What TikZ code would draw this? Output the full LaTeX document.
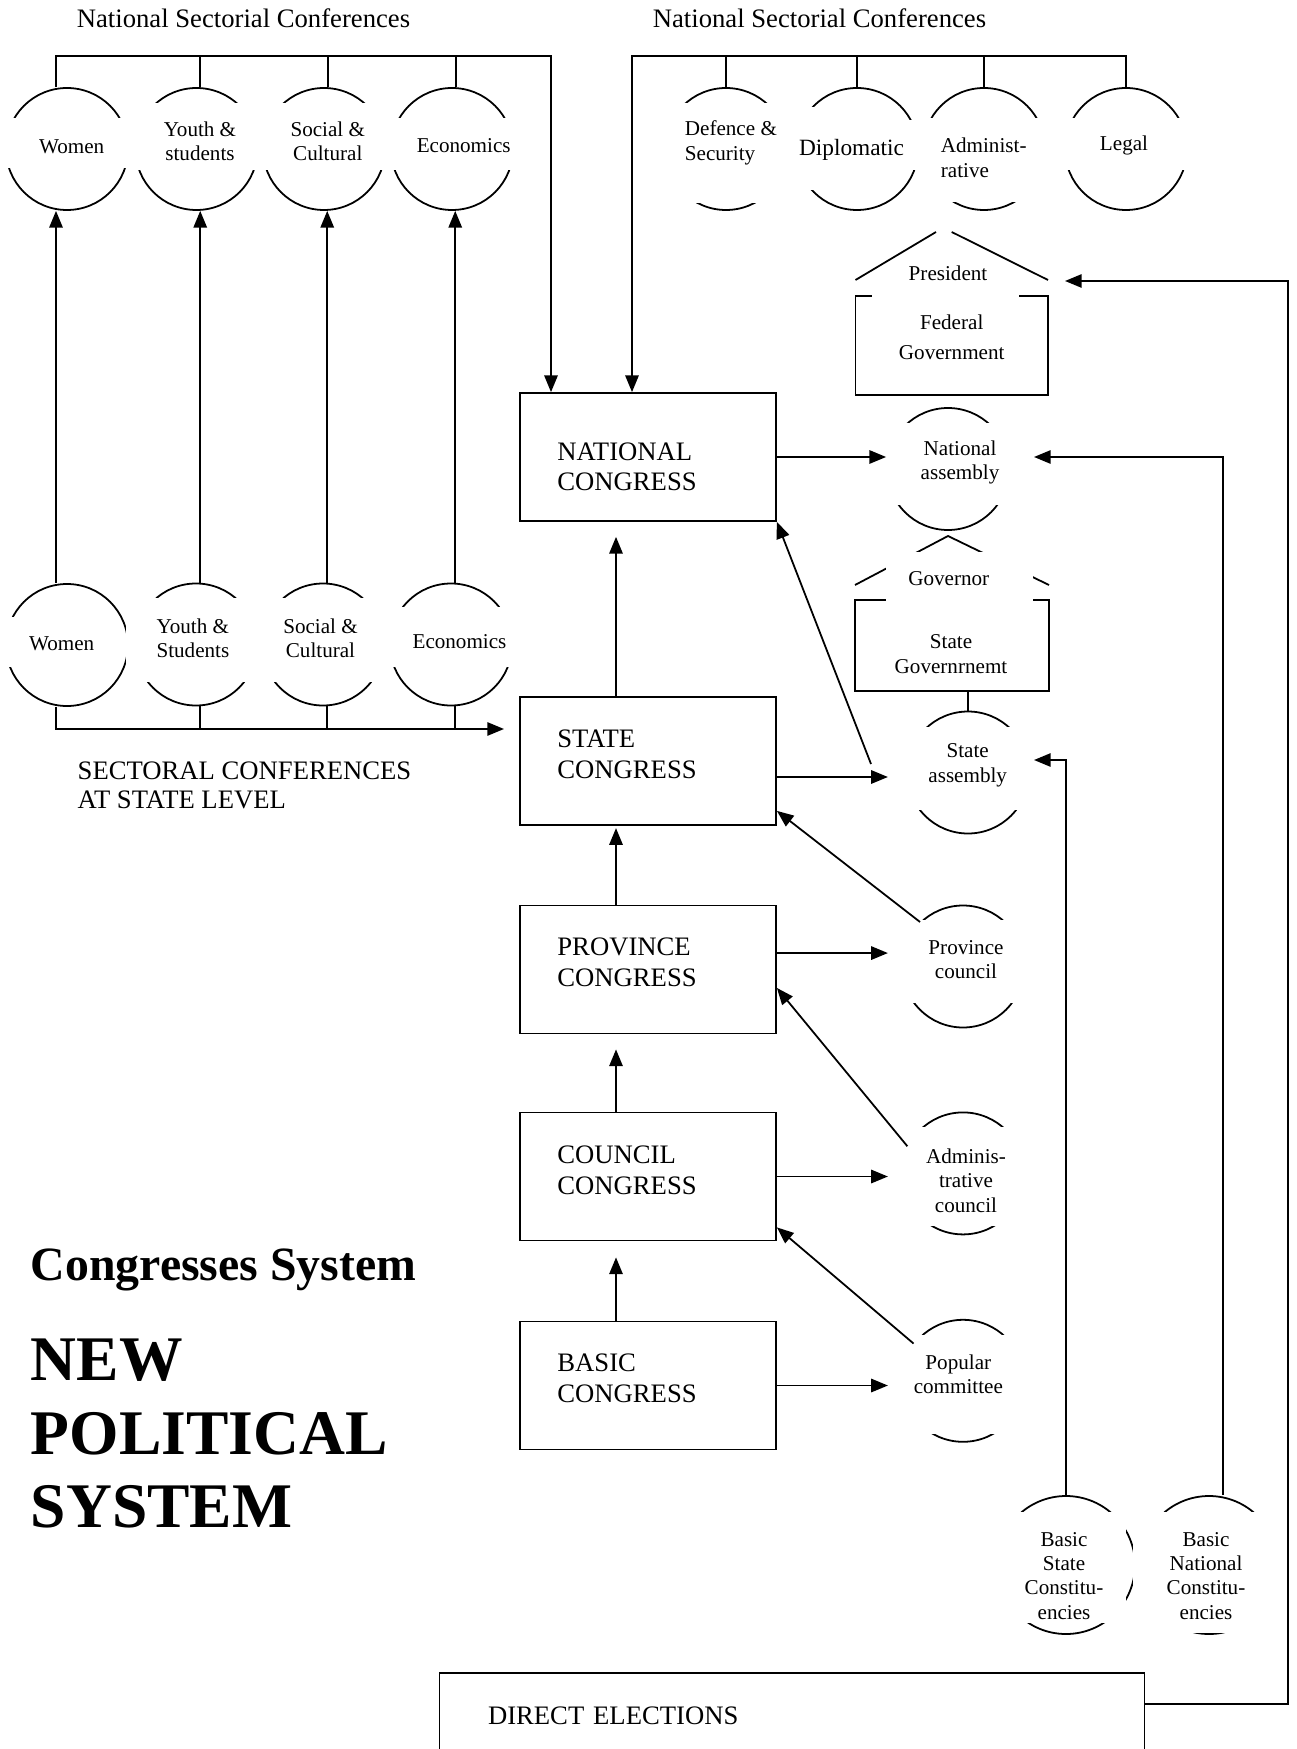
\documentclass[tikz,border=0pt]{standalone}
\usepackage{fontspec}
\setmainfont{Liberation Serif}
\usetikzlibrary{arrows.meta}
\usetikzlibrary{calc}
\newcommand{\lblfont}{\fontsize{9.5}{11}\selectfont}
\newcommand{\bigfont}{\fontsize{12}{13.8}\selectfont}
\tikzset{
  arr/.style={-{Triangle[length=7.5pt,width=6pt]}},
  sect/.style={circle,draw,minimum size=54.9pt,inner sep=0pt},
  basic/.style={sect,minimum size=62.1pt},
  lbl/.style={align=center,font=\lblfont,inner sep=0pt},
  cong/.style={draw,minimum width=115.2pt,minimum height=57.6pt},
  conglbl/.style={anchor=west,align=left,inner sep=0pt,font=\bigfont},
  govbox/.style={draw,inner sep=0pt},
}

\begin{document}
\begin{tikzpicture}[x=0.45pt,y=-0.45pt,line width=0.8pt]
\useasboundingbox (0,0) rectangle (1296,1749);

% sector circles
\foreach \n/\x/\y in {wn/67/149,yn/196.5/149,sn/324/149,en/452/149,
  df/726/149,dp/857/149,ad/984/149,lg/1126/149,
  ws/67/645,ys/196/644.5,ss/323/644.5,es/451/644.5,
  na/948/469,sa/968/772.5,pc/963/966.5,ac/963/1173.4,pp/963/1380.8}
  \node[sect] (\n) at (\x,\y) {};
\node[basic] (bs) at (1066,1565) {};
\node[basic] (bn) at (1209,1565) {};

% white label boxes cutting the circles
\foreach \n/\ax/\ay/\bx/\by in {wn/-64/-31/70/19,yn/-70/-46/70/21,sn/-70/-46/70/21,en/-70/-31/70/21,
  df/-63/-46/70/54,dp/-65/-42/0/41,dp/0/-29/70/21,ad/-62/-31/70/53,lg/-70/-31/70/21,
  ws/-64/-28/43/22,ys/-70/-46.5/70/37,ss/-70/-46.5/70/37,es/-70/-38/70/22,
  na/-66/-46/70/36,sa/-66/-46/70/37,pc/-66/-47/70/36,ac/-66/-46/70/53,pp/-66/-46/70/53,
  bs/-76/-53/60/58,bn/-76/-53/76/67.5}
  \fill[white] ($(\n)+(\ax,\ay)$) rectangle ($(\n)+(\bx,\by)$);

\node[lbl] (wnt) at (71.7,147) {Women};
\node[lbl] (ynt) at (200,141.2) {Youth \&\\students};
\node[lbl] (snt) at (327.8,141.2) {Social \&\\Cultural};
\node[lbl] (ent) at (463.7,145.3) {Economics};
\node[lbl] (wst) at (61.6,643.6) {Women};
\node[lbl] (yst) at (192.9,638.2) {Youth \&\\Students};
\node[lbl] (sst) at (320.5,638.2) {Social \&\\Cultural};
\node[lbl] (est) at (459.5,642) {Economics};
\node[lbl,anchor=west,align=left] (dft) at (684,142.8) {Defence \&\\Security};
\node[lbl,font=\fontsize{10.5}{12}\selectfont] (dpt) at (851.5,150.3) {Diplomatic};
\node[lbl,anchor=west,align=left] (adt) at (940,157.8) {Administ-\\rative};
\node[lbl] (lgt) at (1124,145.3) {Legal};
\node[lbl] (nat) at (960,462.3) {National\\assembly};
\node[lbl] (sat) at (967.7,765.2) {State\\assembly};
\node[lbl] (pct) at (966,959.5) {Province\\council};
\node[lbl] (act) at (966,1180.6) {Adminis-\\trative\\council};
\node[lbl] (ppt) at (958.3,1374.3) {Popular\\committee};
\node[lbl] (bst) at (1064,1575.8) {Basic\\State\\Constitu-\\encies};
\node[lbl] (bnt) at (1206,1575.8) {Basic\\National\\Constitu-\\encies};

% congresses
\node[cong] (natc) at (648,457) {};
\node[cong] (stc) at (648,761) {};
\node[cong] (prc) at (648,969.5) {};
\node[cong] (cnc) at (648,1176.5) {};
\node[cong] (bsc) at (648,1385.5) {};
\node[conglbl] (natct) at (556.5,466.8) {NATIONAL\\CONGRESS};
\node[conglbl] (stct) at (556.5,754.5) {STATE\\CONGRESS};
\node[conglbl] (prct) at (556.5,962.6) {PROVINCE\\CONGRESS};
\node[conglbl] (cnct) at (556.5,1170.5) {COUNCIL\\CONGRESS};
\node[conglbl] (bsct) at (556.5,1378.5) {BASIC\\CONGRESS};

% president and governor
\node[govbox,minimum width=86.6pt,minimum height=44.6pt] (fg) at (951.75,345.5) {};
\node[lbl] (fgt) at (951.7,337) {Federal\\[2.5pt]Government};
\fill[white] (872,289) rectangle (1019,298);
\draw (855.5,280) -- (936,232);
\draw (951.7,232) -- (1048,280);
\node[lbl] (pres) at (948,273.3) {President};
\node[govbox,minimum width=87.3pt,minimum height=41pt] (sg) at (952,645.5) {};
\node[lbl] (sgt) at (951,654) {State\\Governrnemt};
\draw (855,585) -- (948,536) -- (1049,585);
\fill[white] (886,552) rectangle (1033,601.5);
\node[lbl] (gov) at (948.8,578.3) {Governor};

\node[draw,minimum width=317.25pt,minimum height=38.7pt,text width=273.6pt,inner xsep=21.8pt,align=left,font=\bigfont] (de) at (792,1716) {DIRECT ELECTIONS};

% texts
\node[anchor=base west,inner sep=0pt,font=\bigfont] (h1) at (76,27.7) {National Sectorial Conferences};
\node[anchor=base west,inner sep=0pt,font=\bigfont] (h2) at (652,27.7) {National Sectorial Conferences};
\node[anchor=west,align=left,inner sep=0pt,font=\fontsize{12}{12.7}\selectfont] (scs) at (76.8,785.4) {SECTORAL CONFERENCES\\AT STATE LEVEL};
\node[anchor=base west,inner sep=0pt,font=\fontsize{21.5}{26}\selectfont\bfseries] (cs) at (30,1280) {Congresses System};
\node[anchor=west,align=left,inner sep=0pt,font=\fontsize{28.6}{32.9}\selectfont\bfseries] (nps) at (30,1433.5) {NEW\\POLITICAL\\SYSTEM};

% connectors
\coordinate (lb) at (551,56);
\coordinate (rb) at (632,56);
\coordinate (sb) at (504,729);
\draw[arr] ([xshift=-4.95pt]wn.north) |- (lb) -- (lb |- natc.north);
\foreach \n in {yn,sn,en} \draw ([xshift=1.7pt]\n.north) -- ([xshift=1.7pt]\n.north |- lb);
\draw[arr] (lg.north) |- (rb) -- (rb |- natc.north);
\foreach \n in {df,dp,ad} \draw (\n.north) -- (\n.north |- rb);
\draw[arr] ([xshift=-4.95pt]ws.north) -- ([xshift=-4.95pt]wn.south);
\foreach \p/\q in {ys/yn,ss/sn,es/en} \draw[arr] ([xshift=1.9pt]\p.north) -- ([xshift=1.9pt]\p.north |- \q.south);
\draw[arr] ([xshift=-4.95pt]ws.south) |- (sb);
\foreach \n in {ys,ss,es} \draw ([xshift=1.9pt]\n.south) -- ([xshift=1.9pt]\n.south |- sb);

\draw[arr,shorten >=6.75pt] ([xshift=-14.4pt]stc.north) -- ([xshift=-14.4pt]natc.south);
\draw[arr,shorten >=1pt] ([xshift=-14.4pt]prc.north) -- ([xshift=-14.4pt]stc.south);
\draw[arr,shorten >=6.75pt] ([xshift=-14.4pt]cnc.north) -- ([xshift=-14.4pt]prc.south);
\draw[arr,shorten >=7.2pt] ([xshift=-14.4pt]bsc.north) -- ([xshift=-14.4pt]cnc.south);

\draw[arr] (natc.east) -- (natc.east -| na.west);
\draw[arr] ([yshift=-7.2pt]stc.east) -- ++(111,0);
\draw[arr] ([yshift=7.4pt]prc.east) -- ++(111,0);
\draw[arr] (cnc.east) -- ++(111,0);
\draw[arr] (bsc.east) -- ++(111,0);

\coordinate (sx) at (871,764);
\draw[arr] (sx) -- (natc.south east);
\draw[arr] (pc.134) -- ([yshift=6.75pt]stc.south east);
\draw[arr] (ac.154) -- ([yshift=-8.3pt]prc.east);
\draw[arr] (pp.143) -- ([yshift=6.3pt]cnc.south east);

\draw (sa.north) -- (sa.north |- sg.south);
\coordinate (nin) at (1034,457);
\coordinate (sin) at (1034,760);
\draw[arr] ([xshift=6.3pt]bn.north) |- (nin);
\draw[arr] (bs.north) |- (sin);
\coordinate (eb) at (1288,1704);
\coordinate (pin) at (1065,281);
\draw[arr] (de.east |- eb) -- (eb) |- (pin);
\end{tikzpicture}
\end{document}
